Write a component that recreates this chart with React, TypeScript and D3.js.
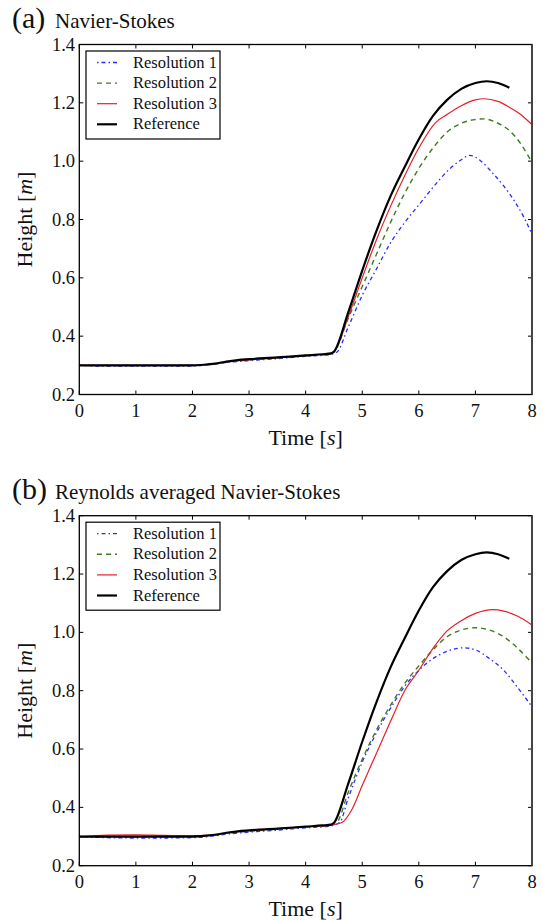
import * as d3 from "d3";

// Reference solution (same in both panels)
const refTime = [0, 0.5, 1, 1.5, 2, 2.2, 2.4, 2.6, 2.8, 3, 3.5, 4, 4.3, 4.45, 4.5, 4.75, 5, 5.25, 5.5, 5.75, 6, 6.25, 6.5, 6.75, 7, 7.2, 7.4, 7.6];
const refHeight = [0.3, 0.3, 0.3, 0.3, 0.3, 0.302, 0.306, 0.313, 0.318, 0.321, 0.327, 0.334, 0.338, 0.341, 0.347, 0.48, 0.625, 0.76, 0.88, 0.98, 1.075, 1.155, 1.21, 1.248, 1.268, 1.274, 1.268, 1.252];

// (a) Navier-Stokes
const nsTime1 = [0, 0.5, 1, 1.5, 2, 2.3, 2.6, 3, 3.5, 4, 4.4, 4.55, 4.75, 5, 5.25, 5.5, 5.75, 6, 6.25, 6.5, 6.75, 6.9, 7.1, 7.3, 7.5, 7.7, 7.85, 8];
const nsRes1 = [0.3, 0.297, 0.297, 0.297, 0.298, 0.302, 0.31, 0.316, 0.323, 0.331, 0.336, 0.345, 0.43, 0.54, 0.63, 0.72, 0.79, 0.85, 0.91, 0.965, 1.005, 1.02, 1.0, 0.96, 0.915, 0.86, 0.81, 0.75];
const nsTime2 = [0, 0.5, 1, 1.5, 2, 2.3, 2.6, 3, 3.5, 4, 4.4, 4.5, 4.75, 5, 5.25, 5.5, 5.75, 6, 6.25, 6.5, 6.75, 7, 7.15, 7.4, 7.6, 7.8, 8];
const nsRes2 = [0.3, 0.299, 0.299, 0.299, 0.3, 0.303, 0.311, 0.318, 0.325, 0.333, 0.338, 0.346, 0.46, 0.57, 0.68, 0.79, 0.89, 0.975, 1.045, 1.1, 1.13, 1.143, 1.145, 1.13, 1.105, 1.06, 0.995];
const nsTime3 = [0, 0.5, 1, 1.5, 2, 2.3, 2.6, 3, 3.5, 4, 4.4, 4.5, 4.75, 5, 5.25, 5.5, 5.75, 6, 6.3, 6.5, 6.75, 7, 7.15, 7.4, 7.6, 7.8, 8];
const nsRes3 = [0.3, 0.3, 0.3, 0.3, 0.3, 0.303, 0.312, 0.319, 0.326, 0.334, 0.338, 0.346, 0.465, 0.6, 0.73, 0.845, 0.95, 1.045, 1.133, 1.16, 1.19, 1.21, 1.214, 1.205, 1.185, 1.16, 1.125];

// (b) Reynolds averaged Navier-Stokes
const ransTime1 = [0, 0.5, 1, 1.5, 2, 2.3, 2.6, 3, 3.5, 4, 4.4, 4.6, 4.75, 5, 5.25, 5.5, 5.75, 6, 6.25, 6.5, 6.8, 7, 7.25, 7.5, 7.75, 8];
const ransRes1 = [0.3, 0.296, 0.295, 0.295, 0.296, 0.3, 0.308, 0.315, 0.322, 0.33, 0.335, 0.348, 0.43, 0.555, 0.655, 0.74, 0.815, 0.87, 0.91, 0.935, 0.947, 0.94, 0.91, 0.87, 0.81, 0.745];
const ransTime2 = [0, 0.5, 1, 1.5, 2, 2.3, 2.6, 3, 3.5, 4, 4.4, 4.55, 4.75, 5, 5.25, 5.5, 5.75, 6, 6.25, 6.5, 6.75, 7, 7.25, 7.5, 7.75, 8];
const ransRes2 = [0.3, 0.299, 0.299, 0.299, 0.3, 0.303, 0.311, 0.318, 0.325, 0.333, 0.337, 0.348, 0.45, 0.565, 0.665, 0.75, 0.825, 0.885, 0.94, 0.985, 1.008, 1.016, 1.008, 0.985, 0.945, 0.895];
const ransTime3 = [0, 0.5, 1, 1.5, 2, 2.3, 2.6, 3, 3.5, 4, 4.4, 4.64, 4.81, 5, 5.25, 5.5, 5.75, 6, 6.25, 6.5, 6.75, 7, 7.3, 7.5, 7.75, 8];
const ransRes3 = [0.3, 0.305, 0.306, 0.304, 0.303, 0.305, 0.313, 0.32, 0.327, 0.334, 0.338, 0.348, 0.39, 0.475, 0.585, 0.695, 0.8, 0.87, 0.945, 1.005, 1.04, 1.065, 1.078, 1.073, 1.055, 1.025];

const legendLabels = ["Resolution 1", "Resolution 2", "Resolution 3", "Reference"];
const xTicks = [0, 1, 2, 3, 4, 5, 6, 7, 8];
const yTicks = [0.2, 0.4, 0.6, 0.8, 1.0, 1.2, 1.4];

const font = "'Liberation Serif', 'Times New Roman', serif";

const styles = [
  { color: "#2b2bff", width: 1.3, dash: "1.5,3,4,3" },
  { color: "#3f7a22", width: 1.4, dash: "5,4" },
  { color: "#e3202a", width: 1.2, dash: null },
  { color: "#000000", width: 2.2, dash: null },
];

const left = 79.3;
const right = 532;

const Panel = ({ top, tag, title, series }) => {
  const bottom = top + 350;
  const x = d3.scaleLinear().domain([0, 8]).range([left, right]);
  const y = d3.scaleLinear().domain([0.2, 1.4]).range([bottom, top]);
  const line = d3
    .line()
    .x((d) => x(d[0]))
    .y((d) => y(d[1]))
    .curve(d3.curveMonotoneX);

  const tk = 4;
  return (
    <g>
      {/* Title */}
      <text x={12} y={top - 17} fontFamily={font} fontSize={30} fill="#111">
        {tag}
      </text>
      <text x={55} y={top - 17} fontFamily={font} fontSize={21} fill="#111">
        {title}
      </text>

      {/* Curves */}
      <defs>
        <clipPath id={`clip-${tag}`}>
          <rect x={left} y={top} width={right - left} height={350} />
        </clipPath>
      </defs>
      <g clipPath={`url(#clip-${tag})`}>
        {series.map((s, i) => (
          <path
            key={i}
            d={line(s.t.map((t, j) => [t, s.v[j]]))}
            fill="none"
            stroke={styles[i].color}
            strokeWidth={styles[i].width}
            strokeDasharray={styles[i].dash || undefined}
          />
        ))}
      </g>

      {/* Ticks */}
      {xTicks.map((t) => (
        <g key={`x${t}`}>
          <line x1={x(t)} x2={x(t)} y1={bottom} y2={bottom - tk} stroke="#000" />
          <line x1={x(t)} x2={x(t)} y1={top} y2={top + tk} stroke="#000" />
          <text
            x={x(t)}
            y={bottom + 22}
            textAnchor="middle"
            fontFamily={font}
            fontSize={18.5}
            fill="#111"
          >
            {t}
          </text>
        </g>
      ))}
      {yTicks.map((t) => (
        <g key={`y${t}`}>
          <line x1={left} x2={left + tk} y1={y(t)} y2={y(t)} stroke="#000" />
          <line x1={right} x2={right - tk} y1={y(t)} y2={y(t)} stroke="#000" />
          <text
            x={75}
            y={y(t) + 6}
            textAnchor="end"
            fontFamily={font}
            fontSize={18.5}
            fill="#111"
          >
            {t.toFixed(1)}
          </text>
        </g>
      ))}

      {/* Frame */}
      <rect
        x={left}
        y={top}
        width={right - left}
        height={350}
        fill="none"
        stroke="#000"
        strokeWidth={1.3}
      />
      <line x1={right} x2={right} y1={top} y2={bottom} stroke="#444" strokeWidth={2} />

      {/* Axis labels */}
      <text
        x={(left + right) / 2}
        y={bottom + 50}
        textAnchor="middle"
        fontFamily={font}
        fontSize={22}
        fill="#111"
      >
        Time [<tspan fontStyle="italic">s</tspan>]
      </text>
      <text
        transform={`translate(32,${(top + bottom) / 2}) rotate(-90)`}
        textAnchor="middle"
        fontFamily={font}
        fontSize={22}
        fill="#111"
      >
        Height [<tspan fontStyle="italic">m</tspan>]
      </text>

      {/* Legend */}
      <rect
        x={86}
        y={top + 6.5}
        width={134}
        height={88}
        fill="#fff"
        stroke="#000"
        strokeWidth={1.2}
      />
      {legendLabels.map((label, i) => {
        const ly = top + 18 + i * 20.6;
        return (
          <g key={label}>
            <line
              x1={97}
              x2={117}
              y1={ly}
              y2={ly}
              stroke={styles[i].color}
              strokeWidth={styles[i].width}
              strokeDasharray={styles[i].dash || undefined}
            />
            <text
              x={133}
              y={ly + 5}
              fontFamily={font}
              fontSize={16.5}
              fill="#111"
            >
              {label}
            </text>
          </g>
        );
      })}
    </g>
  );
};

const App = () => {
  const nsSeries = [
    { t: nsTime1, v: nsRes1 },
    { t: nsTime2, v: nsRes2 },
    { t: nsTime3, v: nsRes3 },
    { t: refTime, v: refHeight },
  ];
  const ransSeries = [
    { t: ransTime1, v: ransRes1 },
    { t: ransTime2, v: ransRes2 },
    { t: ransTime3, v: ransRes3 },
    { t: refTime, v: refHeight },
  ];
  return (
    <div>
      <style>{`body{margin:0}`}</style>
      <svg width={543} height={920} style={{ display: "block", background: "#fff" }}>
        <Panel top={44.5} tag="(a)" title="Navier-Stokes" series={nsSeries} />
        <Panel
          top={515.7}
          tag="(b)"
          title="Reynolds averaged Navier-Stokes"
          series={ransSeries}
        />
      </svg>
    </div>
  );
};

export default App;
